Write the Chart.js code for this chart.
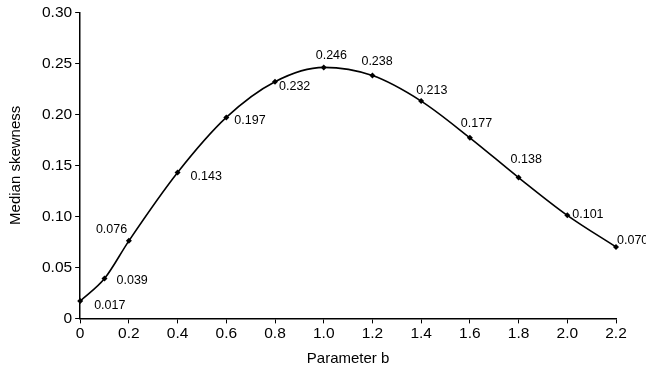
<!DOCTYPE html>
<html>
<head>
<meta charset="utf-8">
<script src="https://cdn.jsdelivr.net/npm/chart.js@4/dist/chart.umd.min.js"></script>
<style>
  html, body { margin: 0; padding: 0; background: #fff; }
  #wrap { width: 646px; height: 371px; position: relative; }
</style>
</head>
<body>
<div id="wrap"><canvas id="skewChart"></canvas></div>
<script>
// parameter b and the median skewness measured at each value
const paramB = [0, 0.1, 0.2, 0.4, 0.6, 0.8, 1.0, 1.2, 1.4, 1.6, 1.8, 2.0, 2.2];
const medianSkew = [0.017, 0.039, 0.076, 0.143, 0.197, 0.232, 0.246, 0.238, 0.213, 0.177, 0.138, 0.101, 0.070];

// where each value label sits relative to its point (px)
const labelOffsets = [
    [14, 4], [12, 2], [-33, -11], [13, 4], [8, 3], [4, 5],
    [-8, -12], [-11, -14], [-5, -11], [-9, -14], [-8, -18], [5, -1], [1, -6]
];

const valueLabels = {
    id: 'valueLabels',
    afterDatasetsDraw(chart) {
        const ctx = chart.ctx;
        const meta = chart.getDatasetMeta(0);
        ctx.save();
        ctx.font = '12.5px "Liberation Sans", Arial, sans-serif';
        ctx.fillStyle = '#000';
        ctx.textAlign = 'left';
        ctx.textBaseline = 'middle';
        meta.data.forEach((pt, i) => {
            const [dx, dy] = labelOffsets[i];
            ctx.fillText(medianSkew[i].toFixed(3), pt.x + dx, pt.y + dy);
        });
        ctx.restore();
    }
};

const font = { family: '"Liberation Sans", Arial, sans-serif', size: 15.5 };
const titleFont = { family: '"Liberation Sans", Arial, sans-serif', size: 15 };

new Chart(document.getElementById('skewChart'), {
    type: 'line',
    data: {
        datasets: [{
            data: paramB.map((b, i) => ({ x: b, y: medianSkew[i] })),
            borderColor: '#000',
            borderWidth: 1.6,
            backgroundColor: '#000',
            pointStyle: 'rectRot',
            pointRadius: 3,
            pointBorderWidth: 0,
            cubicInterpolationMode: 'monotone',
            clip: false,
            fill: false
        }]
    },
    plugins: [valueLabels],
    options: {
        responsive: true,
        maintainAspectRatio: false,
        animation: false,
        layout: { padding: { top: 7, right: 30, left: 3, bottom: 0 } },
        plugins: { legend: { display: false }, tooltip: { enabled: false } },
        scales: {
            x: {
                type: 'linear',
                min: 0,
                max: 2.2,
                grid: { drawOnChartArea: false, drawTicks: true, tickLength: 5, tickColor: '#000' },
                border: { color: '#000', width: 1.5 },
                ticks: {
                    stepSize: 0.2,
                    color: '#000',
                    font,
                    padding: 1,
                    maxRotation: 0,
                    callback: v => v === 0 ? '0' : v.toFixed(1)
                },
                title: { display: true, text: 'Parameter b', color: '#000', font: titleFont, padding: { top: 6, bottom: 3 } }
            },
            y: {
                min: 0,
                max: 0.30,
                grid: { drawOnChartArea: false, drawTicks: true, tickLength: 5, tickColor: '#000' },
                border: { color: '#000', width: 1.5 },
                ticks: {
                    stepSize: 0.05,
                    color: '#000',
                    font,
                    padding: 3,
                    callback: v => v === 0 ? '0' : v.toFixed(2)
                },
                title: { display: true, text: 'Median skewness', color: '#000', font: titleFont, padding: { bottom: 14 } }
            }
        }
    }
});
</script>
</body>
</html>
